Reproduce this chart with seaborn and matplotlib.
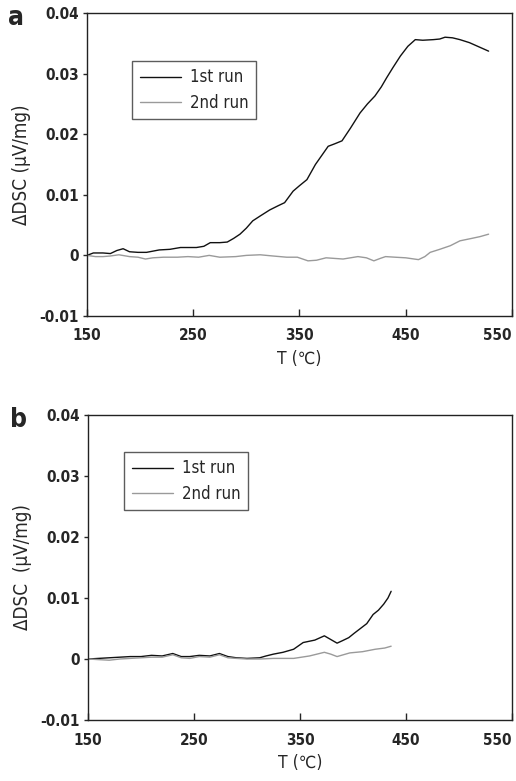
import pandas as pd
import seaborn as sns
import matplotlib.pyplot as plt

# panel a, 1st run
a_t1 = [150, 156, 165, 172, 178, 184, 190, 198, 206, 218, 228, 238, 253, 260, 266, 275, 282, 288, 294, 300, 306,
        313, 322, 330, 336, 344, 350, 357, 365, 371, 377, 383, 390, 398, 407, 414, 421, 427, 432, 438, 445, 452,
        459, 466, 476, 482, 487, 494, 501, 510, 519, 528]
a_d1 = [0.0, 0.0004, 0.0004, 0.0003, 0.0008, 0.0011, 0.0006, 0.0005, 0.0005, 0.0009, 0.0010, 0.0013, 0.0013,
        0.0015, 0.0021, 0.0021, 0.0022, 0.0028, 0.0035, 0.0045, 0.0057, 0.0065, 0.0075, 0.0082, 0.0087, 0.0106,
        0.0115, 0.0125, 0.0150, 0.0165, 0.0180, 0.0184, 0.0189, 0.0210, 0.0235, 0.0250, 0.0263, 0.0278, 0.0293,
        0.0310, 0.0329, 0.0345, 0.0356, 0.0355, 0.0356, 0.0357, 0.0360, 0.0359, 0.0356, 0.0351, 0.0344, 0.0337]

# panel a, 2nd run
a_t2 = [150, 158, 165, 172, 180, 190, 198, 205, 212, 222, 235, 245, 255, 265, 275, 290, 300, 313, 325, 338, 348,
        358, 366, 375, 383, 391, 398, 405, 413, 420, 426, 431, 440, 450, 462, 468, 473, 482, 492, 501, 512, 520, 528]
a_d2 = [0.0, -0.0002, -0.0002, -0.0001, 0.0001, -0.0002, -0.0003, -0.0006, -0.0004, -0.0003, -0.0003, -0.0002,
        -0.0003, 0.0, -0.0003, -0.0002, 0.0, 0.0001, -0.0001, -0.0003, -0.0003, -0.0009, -0.0008, -0.0004, -0.0005,
        -0.0006, -0.0004, -0.0002, -0.0004, -0.0009, -0.0005, -0.0002, -0.0003, -0.0004, -0.0007, -0.0002, 0.0005,
        0.0010, 0.0016, 0.0024, 0.0028, 0.0031, 0.0035]

# panel b, 1st run
b_t1 = [150, 160, 170, 180, 190, 200, 210, 220, 230, 238, 246, 255, 265, 274, 282, 290, 300, 312, 318, 325, 334,
        344, 353, 364, 373, 379, 385, 390, 396, 401, 407, 413, 419, 424, 429, 433, 436]
b_d1 = [0.0, 0.0001, 0.0002, 0.0003, 0.0004, 0.0004, 0.0006, 0.0005, 0.0009, 0.0004, 0.0004, 0.0006, 0.0005,
        0.0009, 0.0004, 0.0002, 0.0001, 0.0002, 0.0005, 0.0008, 0.0011, 0.0016, 0.0027, 0.0031, 0.0038, 0.0032,
        0.0026, 0.0030, 0.0035, 0.0042, 0.0050, 0.0058, 0.0073, 0.0080, 0.0090, 0.0100, 0.0111]

# panel b, 2nd run
b_t2 = [150, 160, 170, 180, 190, 200, 210, 220, 230, 238, 246, 255, 265, 274, 282, 290, 300, 312, 325, 344, 359,
        373, 379, 385, 397, 409, 421, 430, 436]
b_d2 = [0.0, -0.0001, -0.0002, 0.0, 0.0001, 0.0002, 0.0003, 0.0003, 0.0007, 0.0002, 0.0001, 0.0004, 0.0003,
        0.0007, 0.0002, 0.0001, 0.0, 0.0, 0.0001, 0.0001, 0.0005, 0.0011, 0.0008, 0.0004, 0.0010, 0.0012, 0.0016,
        0.0018, 0.0021]

x_ticks = [150, 250, 350, 450, 550]
y_ticks = [-0.01, 0, 0.01, 0.02, 0.03, 0.04]
y_tick_labels = ["-0.01", "0", "0.01", "0.02", "0.03", "0.04"]
runs = ["1st run", "2nd run"]

sns.set_style("ticks")
plt.rcParams['font.family'] = ['DejaVu Sans']
plt.rcParams['font.stretch'] = 'condensed'

fig = plt.figure(figsize=(5.16, 7.81), dpi=100)
ax_a = fig.add_axes([0.1686, 0.5954, 0.8236, 0.388])
ax_b = fig.add_axes([0.1705, 0.0781, 0.8217, 0.3905])


def make_df(t1, d1, t2, d2):
    df1 = pd.DataFrame({'T': t1, 'DSC': d1, 'run': runs[0]})
    df2 = pd.DataFrame({'T': t2, 'DSC': d2, 'run': runs[1]})
    return pd.concat([df1, df2], ignore_index=True)


panels = [
    (ax_a, make_df(a_t1, a_d1, a_t2, a_d2), "a", (0.106, 0.842), "ΔDSC (μV/mg)"),
    (ax_b, make_df(b_t1, b_d1, b_t2, b_d2), "b", (0.085, 0.879), "ΔDSC  (μV/mg)"),
]

for ax, df, letter, leg_pos, ylab in panels:
    sns.lineplot(data=df, x='T', y='DSC', hue='run', palette=['#111111', '#9a9a9a'],
                 linewidth=1.0, ax=ax, estimator=None, sort=False)
    ax.set_xlim(150, 550)
    ax.set_ylim(-0.01, 0.04)
    ax.set_xticks(x_ticks)
    ax.set_yticks(y_ticks)
    ax.set_yticklabels(y_tick_labels)
    ax.tick_params(axis='x', direction='in', length=5, width=1, pad=9, labelsize=11)
    ax.tick_params(axis='y', direction='out', length=3, width=1, pad=3, labelsize=11)
    for lab in ax.get_xticklabels() + ax.get_yticklabels():
        lab.set_fontweight('bold')
    ax.get_xticklabels()[-1].set_horizontalalignment('right')
    for s in ax.spines.values():
        s.set_linewidth(1.0)
        s.set_color('#222222')
    ax.set_xlabel("T (℃)", fontsize=12.5, labelpad=5)
    ax.set_ylabel(ylab, fontsize=13.5, labelpad=6)
    leg = ax.legend(loc='upper left', bbox_to_anchor=leg_pos, fontsize=12, frameon=True,
                    fancybox=False, edgecolor='#333333', handlelength=2.5, borderpad=0.45,
                    labelspacing=0.45, handletextpad=0.5, borderaxespad=0)
    leg.get_frame().set_linewidth(1.0)
    leg.set_title(None)
    ax.text(-0.185, 0.985, letter, transform=ax.transAxes, fontsize=19, fontweight='bold',
            va='center', ha='left')

fig.savefig("out.png", dpi=100)
